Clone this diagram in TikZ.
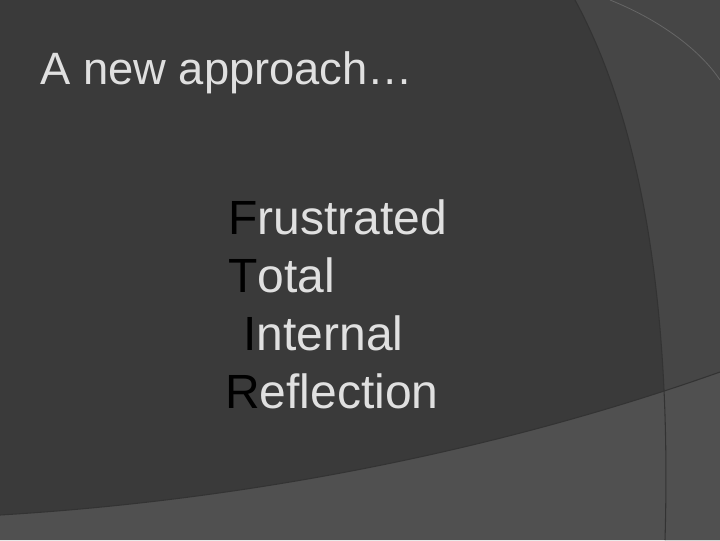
\documentclass[tikz,border=0pt]{standalone}
\usepackage{fontspec}
\setmainfont{Liberation Sans}
\begin{document}
\begin{tikzpicture}[x=0.75pt,y=-0.75pt,
  txt/.style={anchor=base west,inner sep=0pt,text=white!88!black,font=\fontsize{36}{40}\selectfont},
  ini/.style={text=black}]
\useasboundingbox (0,0) rectangle (720,540);
\fill[fill={rgb,255:red,58;green,58;blue,58}] (0,0) rectangle (720,540);
\fill[fill={rgb,255:red,70;green,70;blue,70}] (575,0) .. controls (640,120) and (672,300) .. (665,540) -- (720,540) -- (720,0) -- cycle;
\fill[fill={rgb,255:red,80;green,80;blue,80}] (0,515) .. controls (250,500) and (500,450) .. (720,372) -- (720,540) -- (0,540) -- cycle;
\draw[black!80,line width=0.8pt] (575,0) .. controls (640,120) and (672,300) .. (665,540);
\draw[black!80,line width=0.8pt] (0,515) .. controls (250,500) and (500,450) .. (720,372);
\draw[black!60,line width=0.6pt] (610,0) .. controls (660,20) and (700,50) .. (720,80);
\node[txt,font=\fontsize{34}{38}\selectfont] (title) at (40,84) {A new approach…};
\node[txt] (f) at (228,234) {\textcolor{black}{F}rustrated};
\node[txt] (t) at (228,292) {\textcolor{black}{T}otal};
\node[txt] (i) at (243,350) {\textcolor{black}{I}nternal};
\node[txt] (r) at (225,408) {\textcolor{black}{R}eflection};
\end{tikzpicture}
\end{document}
